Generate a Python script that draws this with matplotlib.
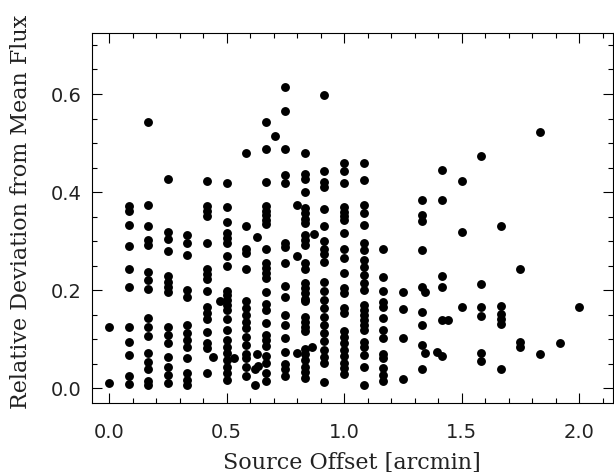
import numpy as np
import matplotlib
matplotlib.use("Agg")
import matplotlib.pyplot as plt
from matplotlib.ticker import MultipleLocator

# Source offsets sit on a grid of 5 arcsec steps (1/12 arcmin)
grid_step = 1.0 / 12.0

# Relative deviation for each grid column, column k is at k * grid_step
dev_by_column = [
    [0.124, 0.010],
    [0.372, 0.362, 0.332, 0.291, 0.243, 0.207, 0.124, 0.095, 0.067, 0.025, 0.008],
    [0.542, 0.373, 0.331, 0.302, 0.292, 0.238, 0.221, 0.202, 0.143, 0.124, 0.107,
     0.071, 0.054, 0.039, 0.014, 0.006],
    [0.426, 0.319, 0.304, 0.279, 0.228, 0.217, 0.207, 0.197, 0.124, 0.109, 0.092,
     0.064, 0.044, 0.027, 0.010],
    [0.313, 0.296, 0.272, 0.200, 0.187, 0.129, 0.112, 0.098, 0.085, 0.061, 0.031,
     0.017, 0.007],
    [0.423, 0.372, 0.361, 0.351, 0.296, 0.243, 0.233, 0.223, 0.199, 0.166, 0.153,
     0.141, 0.114, 0.093, 0.082, 0.031],
    [0.418, 0.370, 0.340, 0.316, 0.306, 0.296, 0.270, 0.250, 0.199, 0.190, 0.180,
     0.170, 0.160, 0.141, 0.119, 0.098, 0.085, 0.071, 0.058, 0.044, 0.031, 0.017],
    [0.479, 0.330, 0.285, 0.275, 0.243, 0.177, 0.163, 0.149, 0.136, 0.122, 0.105,
     0.088, 0.070, 0.061, 0.044, 0.025],
    [0.542, 0.487, 0.421, 0.372, 0.361, 0.353, 0.344, 0.335, 0.284, 0.256, 0.246,
     0.236, 0.224, 0.196, 0.172, 0.160, 0.133, 0.109, 0.098, 0.087, 0.065, 0.051,
     0.031, 0.014],
    [0.614, 0.566, 0.487, 0.435, 0.419, 0.296, 0.289, 0.256, 0.209, 0.187, 0.149,
     0.129, 0.102, 0.075, 0.050, 0.039, 0.025],
    [0.480, 0.436, 0.427, 0.401, 0.367, 0.357, 0.346, 0.337, 0.313, 0.302, 0.292,
     0.256, 0.243, 0.214, 0.204, 0.194, 0.183, 0.177, 0.146, 0.136, 0.126, 0.116,
     0.081, 0.070, 0.058, 0.044, 0.034, 0.022],
    [0.598, 0.444, 0.421, 0.410, 0.366, 0.330, 0.301, 0.283, 0.274, 0.257, 0.217,
     0.199, 0.181, 0.164, 0.146, 0.129, 0.112, 0.097, 0.079, 0.063, 0.051, 0.012],
    [0.459, 0.444, 0.419, 0.370, 0.360, 0.352, 0.343, 0.317, 0.284, 0.265, 0.236,
     0.204, 0.194, 0.164, 0.153, 0.116, 0.105, 0.092, 0.078, 0.065, 0.052, 0.041,
     0.029],
    [0.459, 0.425, 0.374, 0.357, 0.333, 0.296, 0.282, 0.262, 0.247, 0.231, 0.214,
     0.201, 0.170, 0.160, 0.149, 0.139, 0.129, 0.119, 0.095, 0.085, 0.068, 0.044,
     0.007],
    [0.283, 0.226, 0.199, 0.175, 0.165, 0.143, 0.119, 0.103, 0.070, 0.061, 0.041,
     0.027, 0.014],
    [0.196, 0.162, 0.103, 0.018],
    [0.383, 0.353, 0.342, 0.282, 0.206, 0.156, 0.130, 0.088, 0.039],
    [0.445, 0.383, 0.229, 0.206, 0.139, 0.066],
    [0.423, 0.319, 0.165],
    [0.474, 0.213, 0.166, 0.147, 0.071, 0.056],
    [0.330, 0.168, 0.151, 0.141, 0.131, 0.040],
    [0.243, 0.094, 0.085],
    [0.522, 0.069],
    [0.092],
    [0.166],
]

# Sources that fall off the grid
extra_offset = [0.442, 0.470, 0.531, 0.630, 0.628, 0.621, 0.635, 0.621, 0.704,
                0.801, 0.801, 0.801, 0.872, 0.865, 1.344, 1.344, 1.443, 1.396]
extra_dev = [0.063, 0.179, 0.061, 0.309, 0.070, 0.040, 0.046, 0.007, 0.514,
             0.374, 0.270, 0.071, 0.315, 0.085, 0.197, 0.073, 0.139, 0.075]

offset = []
deviation = []
for k, col in enumerate(dev_by_column):
    offset += [k * grid_step] * len(col)
    deviation += col
offset += extra_offset
deviation += extra_dev

fig = plt.figure(figsize=(6.14, 4.72), dpi=100)
ax = fig.add_axes([0.1493, 0.1455, 0.8486, 0.7839])

ax.plot(offset, deviation, "o", color="black", ms=6.4, mec="none")

ax.set_xlim(-0.074, 2.143)
ax.set_ylim(-0.0306, 0.7237)
ax.xaxis.set_major_locator(MultipleLocator(0.5))
ax.xaxis.set_minor_locator(MultipleLocator(0.1))
ax.yaxis.set_major_locator(MultipleLocator(0.2))
ax.yaxis.set_minor_locator(MultipleLocator(0.05))
ax.xaxis.set_major_formatter(plt.FormatStrFormatter("%.1f"))
ax.yaxis.set_major_formatter(plt.FormatStrFormatter("%.1f"))

ax.tick_params(which="both", direction="in", top=True, right=True, width=0.8)
ax.tick_params(which="major", length=7, labelsize=14, labelcolor="#222222")
ax.tick_params(which="minor", length=3.5)
ax.tick_params(axis="x", which="major", pad=14)
ax.tick_params(axis="y", which="major", pad=7)
for s in ax.spines.values():
    s.set_linewidth(0.8)

ax.set_xlabel("Source Offset [arcmin]", family="DejaVu Serif", fontsize=16, color="#222222")
ax.set_ylabel("Relative Deviation from Mean Flux", family="DejaVu Serif", fontsize=16,
              color="#222222")
ax.xaxis.set_label_coords(0.5, -0.16)
ax.yaxis.set_label_coords(-0.135, 0.517)
ax.xaxis.label.set_va("center")
ax.yaxis.label.set_va("center")

fig.savefig("out.png", dpi=100)
